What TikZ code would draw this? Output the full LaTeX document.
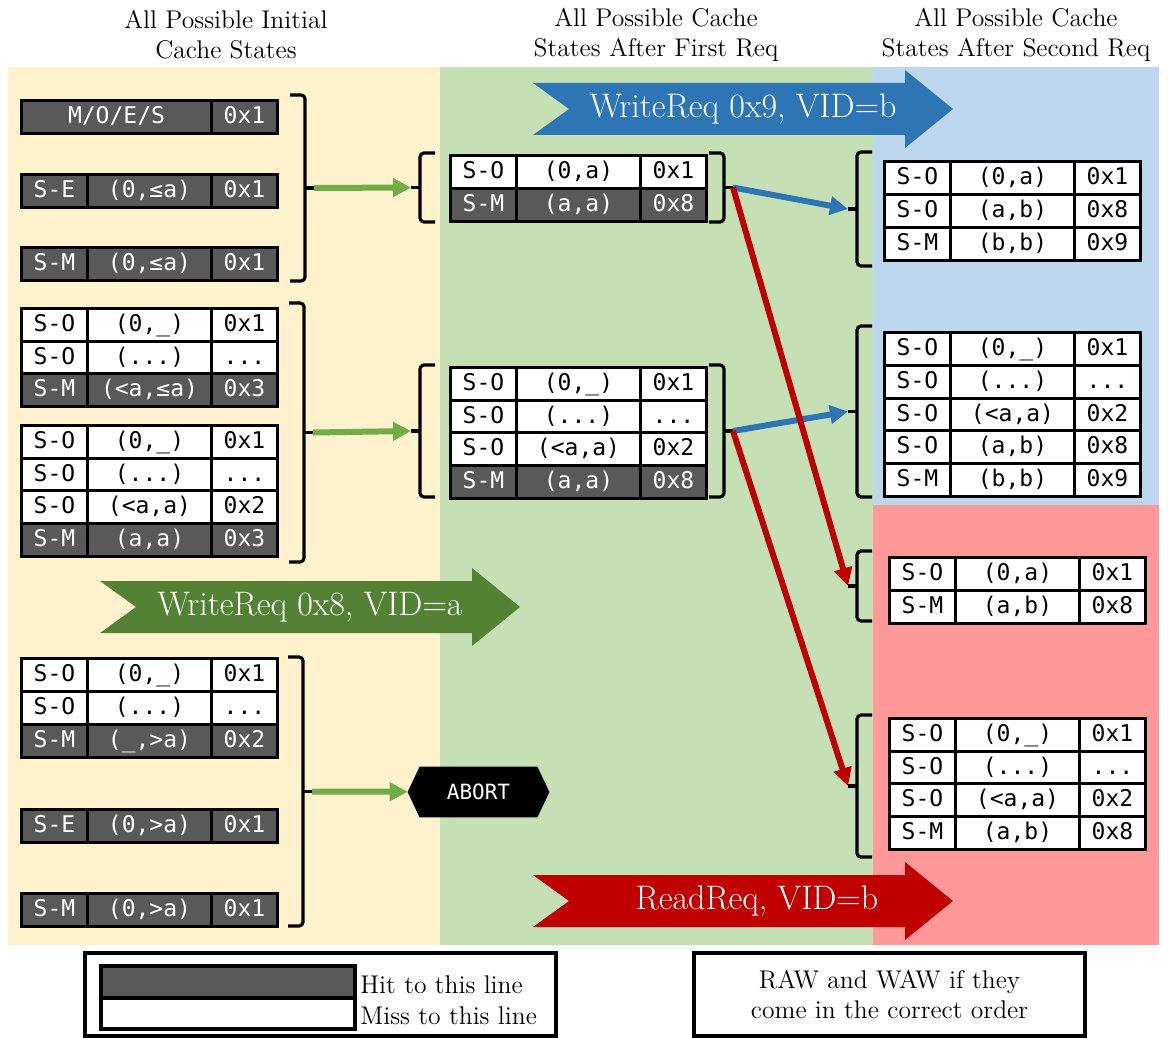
\documentclass[tikz,border=0pt]{standalone}
\usepackage{fontspec}
\setmonofont{DejaVu Sans Mono}
\usetikzlibrary{arrows.meta}
\definecolor{hitgray}{HTML}{595959}
\definecolor{initbg}{HTML}{FFF2CC}
\definecolor{firstbg}{HTML}{C5E0B4}
\definecolor{secondbg}{HTML}{BDD7EE}
\definecolor{missbg}{HTML}{FF9999}
\definecolor{reqblue}{HTML}{2E75B6}
\definecolor{reqgreen}{HTML}{548235}
\definecolor{reqred}{HTML}{C00000}
\definecolor{linegreen}{HTML}{70AD47}
\def\ddd{.\kern0pt.\kern0pt.}
% one cache line: state, range, data
\def\crow#1#2#3#4#5#6#7{%
  \node[#2, minimum width=33pt] (#1s) at (#3,#4) {#5};
  \node[#2, minimum width=62pt] (#1r) at (#3+66,#4) {#6};
  \node[#2, minimum width=33pt] (#1d) at (#3+190,#4) {#7};}
\def\rbrack#1#2#3#4{%
  \draw[brk] (#2-15,#3) -- (#2,#3) -- (#2,#4) -- (#2-15,#4);
  \draw[brk] (#2,{(#3+#4)/2}) -- ++(9,0) coordinate (#1);}
\def\lbrack#1#2#3#4{%
  \draw[brk] (#2+15,#3) -- (#2,#3) -- (#2,#4) -- (#2+15,#4);
  \draw[brk] (#2,{(#3+#4)/2}) -- ++(-9,0) coordinate (#1);}
\def\reqarrow#1#2#3#4#5#6{%
  \fill[#2] (#3,#4-26) -- (#3+372,#4-26) -- (#3+372,#4-39) -- (#3+420,#4)
    -- (#3+372,#4+39) -- (#3+372,#4+26) -- (#3,#4+26) -- (#3+36,#4) -- cycle;
  \node[reqlabel] (#1) at (#3+#5,#4) {#6};}

\begin{document}
\begin{tikzpicture}[x=0.5pt, y=-0.5pt,
  cell/.style={draw, line width=1.5pt, inner sep=0pt, minimum height=16.35pt,
    text height=8.6pt, text depth=2.4pt,
    anchor=north west, font=\ttfamily\fontsize{11.5}{12}\selectfont},
  hit/.style={cell, fill=hitgray, text=white},
  miss/.style={cell, fill=white, text=black},
  head/.style={align=center, font=\fontsize{12.8}{15}\selectfont},
  reqlabel/.style={text=white, font=\fontsize{17}{20}\selectfont},
  brk/.style={line width=1.6pt, rounded corners=2pt},
  garrow/.style={draw=linegreen, line width=3pt, -{Triangle[length=9pt,width=9pt]}},
  barrow/.style={draw=reqblue, line width=3pt, -{Triangle[length=9pt,width=9pt]}},
  rarrow/.style={draw=reqred, line width=3pt, -{Triangle[length=9pt,width=9pt]}}]
\useasboundingbox (0,0) rectangle (1168,1038);

\fill[initbg] (8,67) rectangle (440,945);
\fill[firstbg] (440,67) rectangle (873,945);
\fill[secondbg] (873,67) rectangle (1159,505);
\fill[missbg] (873,505) rectangle (1159,945);

\node[head] (hinit) at (226,35) {All Possible Initial\\Cache States};
\node[head] (hfirst) at (656,35) {All Possible Cache\\States After First Req};
\node[head] (hsecond) at (1016,35) {All Possible Cache\\States After Second Req};

\reqarrow{wb}{reqblue}{533}{109}{210}{WriteReq 0x9, VID=b}
\reqarrow{wa}{reqgreen}{100}{607}{210}{WriteReq 0x8, VID=a}
\reqarrow{rb}{reqred}{533}{901}{224}{ReadReq, VID=b}

% initial states
\node[hit, minimum width=95pt] (i1s) at (20,99) {M/O/E/S};
\node[hit, minimum width=33pt] (i1d) at (210,99) {0x1};
\crow{i2}{hit}{20}{173}{S-E}{(0,≤a)}{0x1}
\crow{i3}{hit}{20}{246}{S-M}{(0,≤a)}{0x1}
\crow{i4}{miss}{20}{307}{S-O}{(0,\_)}{0x1}
\crow{i5}{miss}{20}{340}{S-O}{(\ddd)}{\ddd}
\crow{i6}{hit}{20}{372}{S-M}{(<a,≤a)}{0x3}
\crow{i7}{miss}{20}{424}{S-O}{(0,\_)}{0x1}
\crow{i8}{miss}{20}{457}{S-O}{(\ddd)}{\ddd}
\crow{i9}{miss}{20}{489}{S-O}{(<a,a)}{0x2}
\crow{i10}{hit}{20}{522}{S-M}{(a,a)}{0x3}
\crow{i11}{miss}{20}{657}{S-O}{(0,\_)}{0x1}
\crow{i12}{miss}{20}{690}{S-O}{(\ddd)}{\ddd}
\crow{i13}{hit}{20}{723}{S-M}{(\_,>a)}{0x2}
\crow{i14}{hit}{20}{808}{S-E}{(0,>a)}{0x1}
\crow{i15}{hit}{20}{892}{S-M}{(0,>a)}{0x1}

% after first request
\crow{f1}{miss}{449}{154}{S-O}{(0,a)}{0x1}
\crow{f2}{hit}{449}{187}{S-M}{(a,a)}{0x8}
\crow{f3}{miss}{449}{366}{S-O}{(0,\_)}{0x1}
\crow{f4}{miss}{449}{399}{S-O}{(\ddd)}{\ddd}
\crow{f5}{miss}{449}{431}{S-O}{(<a,a)}{0x2}
\crow{f6}{hit}{449}{464}{S-M}{(a,a)}{0x8}

% after second request
\crow{s1}{miss}{883}{160}{S-O}{(0,a)}{0x1}
\crow{s2}{miss}{883}{193}{S-O}{(a,b)}{0x8}
\crow{s3}{miss}{883}{226}{S-M}{(b,b)}{0x9}
\crow{s4}{miss}{883}{331}{S-O}{(0,\_)}{0x1}
\crow{s5}{miss}{883}{364}{S-O}{(\ddd)}{\ddd}
\crow{s6}{miss}{883}{397}{S-O}{(<a,a)}{0x2}
\crow{s7}{miss}{883}{429}{S-O}{(a,b)}{0x8}
\crow{s8}{miss}{883}{462}{S-M}{(b,b)}{0x9}
\crow{s9}{miss}{888}{556}{S-O}{(0,a)}{0x1}
\crow{s10}{miss}{888}{589}{S-M}{(a,b)}{0x8}
\crow{s11}{miss}{888}{717}{S-O}{(0,\_)}{0x1}
\crow{s12}{miss}{888}{750}{S-O}{(\ddd)}{\ddd}
\crow{s13}{miss}{888}{782}{S-O}{(<a,a)}{0x2}
\crow{s14}{miss}{888}{815}{S-M}{(a,b)}{0x8}

\rbrack{g1}{305}{95}{281}
\rbrack{g2}{304}{303}{562}
\rbrack{g3}{303}{657}{926}
\lbrack{m1in}{420}{153}{222}
\lbrack{m2in}{420}{365}{497}
\rbrack{m1out}{724}{153}{222}
\rbrack{m2out}{724}{365}{497}
\lbrack{b1in}{857}{152}{266}
\lbrack{b2in}{857}{326}{497}
\lbrack{r1in}{857}{551}{621}
\lbrack{r2in}{857}{715}{857}

\node[minimum width=70.5pt, minimum height=25pt] (abort) at (478.5,792) {};
\fill (abort.west) -- ([xshift=6pt]abort.north west) -- ([xshift=-6pt]abort.north east)
  -- (abort.east) -- ([xshift=-6pt]abort.south east) -- ([xshift=6pt]abort.south west) -- cycle;
\node[text=white, font=\ttfamily\fontsize{10.5}{12}\selectfont] (aborttext) at (abort) {ABORT};

\draw[garrow] (g1) -- (m1in);
\draw[garrow] (g2) -- (m2in);
\draw[garrow] (g3) -- (abort);
\draw[barrow] (m1out) -- (b1in);
\draw[barrow] (m2out) -- (b2in);
\draw[rarrow] (m1out) -- (r1in);
\draw[rarrow] (m2out) -- (r2in);

% legend
\draw[line width=2pt] (85,953) rectangle (556,1036);
\node[hit, line width=2pt, minimum width=127pt, minimum height=16pt] (lhit) at (99,964) {};
\node[miss, line width=2pt, minimum width=127pt, minimum height=15.5pt] (lmiss) at (99,996) {};
\node[head, anchor=west, inner sep=0pt] (thit) at (360,985) {Hit to this line};
\node[head, anchor=west, inner sep=0pt] (tmiss) at (360,1016) {Miss to this line};
\node[head, draw, line width=2pt, minimum width=195.5pt, minimum height=41.5pt]
  (order) at (889.5,994.5) {RAW and WAW if they\\come in the correct order};
\end{tikzpicture}
\end{document}
